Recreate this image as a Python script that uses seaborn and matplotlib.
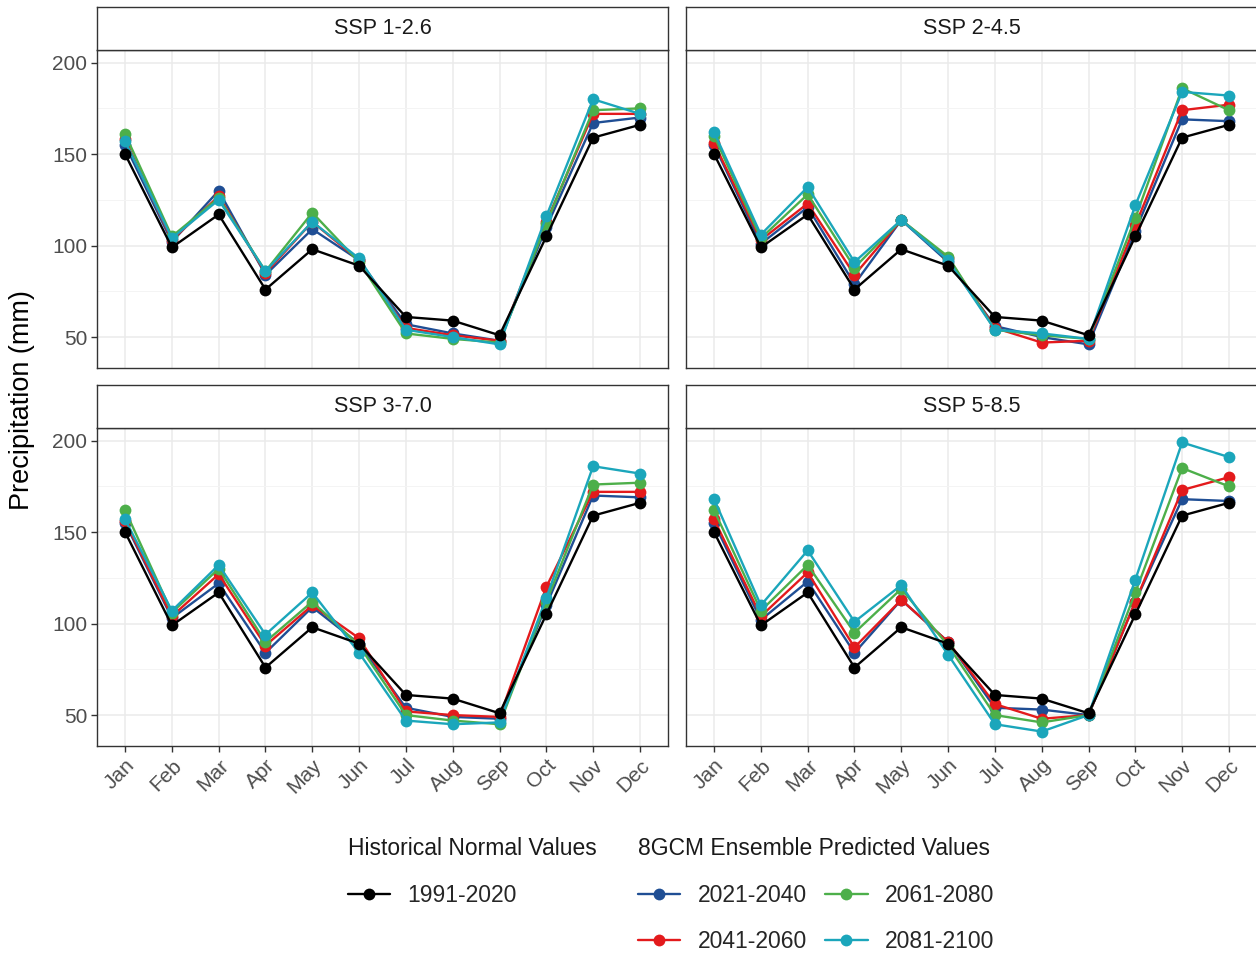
import numpy as np
import pandas as pd
import matplotlib
matplotlib.use("Agg")
import matplotlib.pyplot as plt
from matplotlib.lines import Line2D
import seaborn as sns

sns.set_theme(style="white")
plt.rcParams["font.family"] = ["Liberation Sans", "DejaVu Sans"]

# ---- data -------------------------------------------------------------
months = ["Jan", "Feb", "Mar", "Apr", "May", "Jun",
          "Jul", "Aug", "Sep", "Oct", "Nov", "Dec"]
scenarios = ["SSP 1-2.6", "SSP 2-4.5", "SSP 3-7.0", "SSP 5-8.5"]
hist_label = "1991-2020"
future_labels = ["2021-2040", "2041-2060", "2061-2080", "2081-2100"]

historical = [150, 99, 117, 76, 98, 89, 61, 59, 51, 105, 159, 166]

ssp126 = {
    "2021-2040": [155, 102, 130, 84, 109, 92, 57, 52, 48, 110, 167, 170],
    "2041-2060": [158, 103, 127, 85, 113, 92, 55, 51, 48, 113, 172, 172],
    "2061-2080": [161, 105, 126, 86, 118, 91, 52, 49, 47, 112, 174, 175],
    "2081-2100": [157, 104, 125, 86, 113, 93, 54, 50, 46, 116, 180, 172],
}
ssp245 = {
    "2021-2040": [155, 101, 121, 79, 114, 91, 56, 50, 46, 108, 169, 168],
    "2041-2060": [156, 103, 123, 84, 114, 93, 55, 47, 48, 111, 174, 177],
    "2061-2080": [160, 104, 128, 88, 114, 94, 54, 51, 49, 115, 186, 174],
    "2081-2100": [162, 106, 132, 91, 114, 92, 54, 52, 49, 122, 184, 182],
}
ssp370 = {
    "2021-2040": [155, 103, 122, 84, 109, 89, 54, 49, 48, 110, 170, 169],
    "2041-2060": [156, 104, 127, 88, 110, 92, 52, 50, 49, 120, 172, 172],
    "2061-2080": [162, 106, 130, 90, 112, 88, 50, 47, 45, 112, 176, 177],
    "2081-2100": [157, 107, 132, 94, 117, 84, 47, 45, 46, 114, 186, 182],
}
ssp585 = {
    "2021-2040": [155, 102, 123, 84, 113, 90, 54, 53, 50, 112, 168, 167],
    "2041-2060": [157, 104, 128, 87, 113, 90, 56, 48, 50, 112, 173, 180],
    "2061-2080": [162, 107, 132, 95, 119, 88, 50, 46, 50, 117, 185, 175],
    "2081-2100": [168, 110, 140, 101, 121, 83, 45, 41, 50, 124, 199, 191],
}
projections = [ssp126, ssp245, ssp370, ssp585]

hist_color = "#000000"
future_colors = ["#1f4e94", "#e31a1c", "#4daf4a", "#1ba6bb"]
palette = dict(zip(future_labels, future_colors))

# ---- long table --------------------------------------------------------
rows = []
for scen, proj in zip(scenarios, projections):
    for period in future_labels:
        for i, v in enumerate(proj[period]):
            rows.append((scen, period, i, v))
    for i, v in enumerate(historical):
        rows.append((scen, hist_label, i, v))
df = pd.DataFrame(rows, columns=["scenario", "period", "month", "precip"])

lo, hi = df["precip"].min(), df["precip"].max()
pad = 0.05 * (hi - lo)
ylim = (lo - pad, hi + pad)

# ---- layout ------------------------------------------------------------
W, H = 1256, 955
fig = plt.figure(figsize=(W / 100, H / 100), dpi=100)

def fx(px):
    return px / W

def fy(py):
    return 1 - py / H

panel_w = 571
cols_left = [97, 686]
rows_top = [50, 428]
panel_h = 318
strip_h = 43

border_col = "#333333"
grid_col = "#ebebeb"
tick_col = "#4d4d4d"
LW = 1.7
MS = 8.5
TICK_FS = 15

for k, scen in enumerate(scenarios):
    r, c = divmod(k, 2)
    left, top = cols_left[c], rows_top[r]
    ax = fig.add_axes([fx(left), fy(top + panel_h), fx(panel_w), panel_h / H])
    sax = fig.add_axes([fx(left), fy(top), fx(panel_w), strip_h / H])

    sub = df[df["scenario"] == scen]
    fut = sub[sub["period"] != hist_label]
    sns.lineplot(data=fut, x="month", y="precip", hue="period",
                 hue_order=future_labels, palette=palette, marker="o",
                 markersize=MS, markeredgewidth=0, linewidth=LW,
                 legend=False, ax=ax, zorder=3)
    his = sub[sub["period"] == hist_label]
    sns.lineplot(data=his, x="month", y="precip", color=hist_color,
                 marker="o", markersize=MS, markeredgewidth=0,
                 linewidth=LW, legend=False, ax=ax, zorder=4)

    ax.set_xlim(-0.6, 11.6)
    ax.set_ylim(*ylim)
    ax.set_yticks([50, 100, 150, 200])
    ax.set_yticks([75, 125, 175], minor=True)
    ax.set_xticks(range(12))
    ax.grid(True, which="major", color=grid_col, linewidth=1.1)
    ax.grid(True, which="minor", axis="y", color="#f4f4f4", linewidth=0.7)
    ax.set_axisbelow(True)
    for sp in ax.spines.values():
        sp.set_color(border_col)
        sp.set_linewidth(1.0)
    ax.set_xlabel("")
    ax.set_ylabel("")
    ax.tick_params(axis="both", which="major", length=4, width=1.0,
                   color=border_col, labelcolor=tick_col, labelsize=TICK_FS,
                   pad=3, left=(c == 0), bottom=(r == 1))
    ax.tick_params(axis="both", which="minor", length=0)
    if r == 1:
        ax.set_xticklabels(months, rotation=45, ha="right",
                           rotation_mode="anchor")
    else:
        ax.set_xticklabels([])
    if c != 0:
        ax.set_yticklabels([])

    sax.set_xticks([])
    sax.set_yticks([])
    sax.set_facecolor("white")
    for sp in sax.spines.values():
        sp.set_color(border_col)
        sp.set_linewidth(1.0)
    sax.text(0.5, 0.5, scen, ha="center", va="center", fontsize=15.5,
             color="#1a1a1a", transform=sax.transAxes)

fig.text(fx(22), fy(400), "Precipitation (mm)", rotation=90,
         ha="center", va="center", fontsize=19.5, color="black")

# ---- legends -----------------------------------------------------------
def key(color):
    return Line2D([0], [0], color=color, marker="o", markersize=MS,
                  markeredgewidth=0, linewidth=LW)

leg_kw = dict(frameon=False, fontsize=16.5, title_fontsize=16.5,
              handlelength=1.85, handletextpad=0.75, labelspacing=1.0,
              alignment="left", borderaxespad=0, borderpad=0)

leg1 = fig.legend([key(hist_color)], [hist_label],
                  title="Historical Normal Values", loc="upper left",
                  bbox_to_anchor=(fx(348), fy(837)), **leg_kw)
leg2 = fig.legend([key(cl) for cl in future_colors], future_labels,
                  title="8GCM Ensemble Predicted Values", ncol=2,
                  columnspacing=0.8, loc="upper left",
                  bbox_to_anchor=(fx(638), fy(837)), **leg_kw)
for lg in (leg1, leg2):
    lg.get_title().set_color("#1a1a1a")
    lg._legend_box.sep = 17

fig.savefig("out.png", dpi=100, facecolor="white")
